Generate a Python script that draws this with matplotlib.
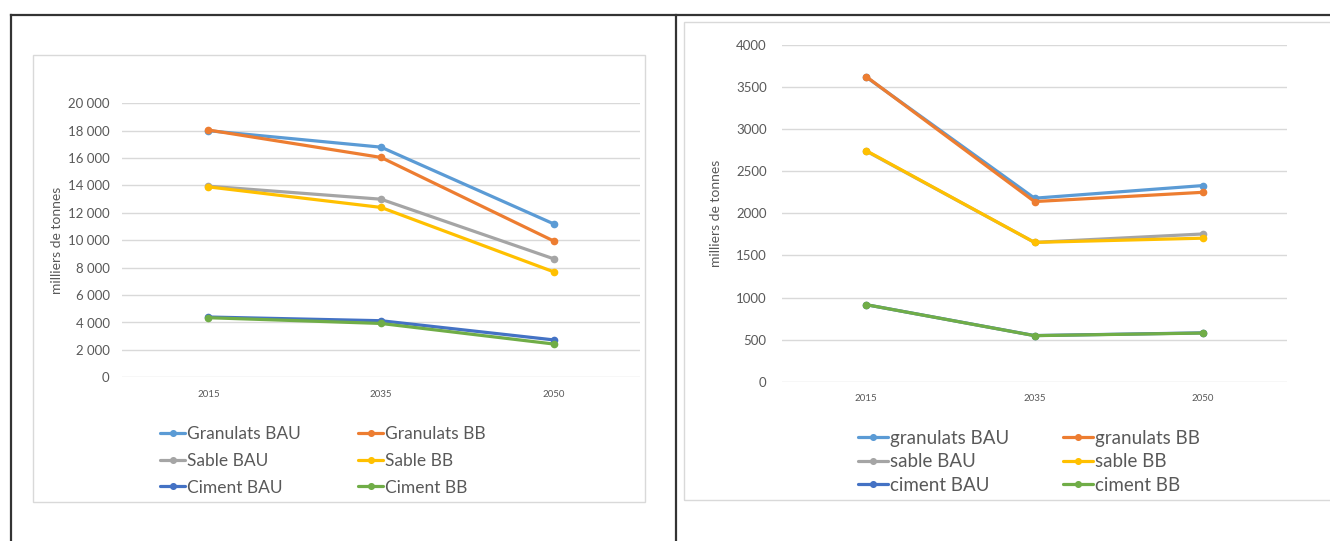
import matplotlib
matplotlib.use("Agg")
import matplotlib.pyplot as plt
from matplotlib.patches import Rectangle
from matplotlib.lines import Line2D
from matplotlib.ticker import FuncFormatter

# données
annees = ["2015", "2035", "2050"]

# graphique de gauche (France)
gauche_noms = ["Granulats BAU", "Granulats BB", "Sable BAU", "Sable BB", "Ciment BAU", "Ciment BB"]
granulats_bau_g = [18000, 16800, 11200]
granulats_bb_g = [18050, 16050, 9950]
sable_bau_g = [13950, 13000, 8650]
sable_bb_g = [13900, 12400, 7700]
ciment_bau_g = [4400, 4130, 2730]
ciment_bb_g = [4350, 3930, 2430]

# graphique de droite
droite_noms = ["granulats BAU", "granulats BB", "sable BAU", "sable BB", "ciment BAU", "ciment BB"]
granulats_bau_d = [3620, 2180, 2330]
granulats_bb_d = [3625, 2140, 2250]
sable_bau_d = [2740, 1655, 1755]
sable_bb_d = [2745, 1655, 1705]
ciment_bau_d = [915, 548, 580]
ciment_bb_d = [915, 547, 578]

couleurs = ["#5B9BD5", "#ED7D31", "#A5A5A5", "#FFC000", "#4472C4", "#70AD47"]

W, H = 1330, 541
GRIS_TXT = "#595959"
GRIS_GRILLE = "#D9D9D9"

plt.rcParams['font.family'] = ['Lato', 'DejaVu Sans']


def px_box(x0, y0, x1, y1):
    # pixels (origine en haut à gauche) -> coordonnées figure
    return [x0 / W, 1 - y1 / H, (x1 - x0) / W, (y1 - y0) / H]


def milliers(v, pos):
    return f"{v:,.0f}".replace(",", " ")


def tracer(ax, series, noms, ymax, pas, fmt, ylabel_x, pad_y):
    x = range(len(annees))
    for vals, nom, c in zip(series, noms, couleurs):
        ax.plot(x, vals, color=c, lw=2.3, marker='o', ms=4.5, label=nom,
                solid_capstyle='round')
    ax.set_xlim(-0.5, len(annees) - 0.5)
    ax.set_ylim(0, ymax)
    ax.set_yticks(range(0, ymax + 1, pas))
    ax.yaxis.set_major_formatter(FuncFormatter(fmt))
    ax.set_xticks(list(x))
    ax.set_xticklabels(annees, fontsize=7, color=GRIS_TXT)
    ax.tick_params(axis='y', labelsize=9.5, colors=GRIS_TXT, length=0, pad=pad_y)
    ax.tick_params(axis='x', length=0, pad=9)
    ax.grid(axis='y', color=GRIS_GRILLE, lw=1)
    ax.set_axisbelow(True)
    ax.patch.set_alpha(0)
    for s in ax.spines.values():
        s.set_visible(False)
    ax.set_ylabel("milliers de tonnes", fontsize=10, color=GRIS_TXT)
    ax.yaxis.set_label_coords(ylabel_x, 0.5)


def legende(ax, **kw):
    # ordre par lignes (comme Excel) : matplotlib remplit par colonnes
    h, l = ax.get_legend_handles_labels()
    ordre = [0, 2, 4, 1, 3, 5]
    ax.legend([h[i] for i in ordre], [l[i] for i in ordre], ncol=2, loc='upper left',
              bbox_transform=fig.transFigure, frameon=False, handletextpad=0.1,
              borderaxespad=0, borderpad=0, labelcolor=GRIS_TXT, markerscale=0.9, **kw)


fig = plt.figure(figsize=(W / 100, H / 100), dpi=100)

# cadres des graphiques
fig.patches.append(Rectangle((33 / W, 1 - 502 / H), (645 - 33) / W, (502 - 55) / H,
                             transform=fig.transFigure, fc='none', ec=GRIS_GRILLE, lw=1,
                             zorder=-1))
fig.patches.append(Rectangle((684 / W, 1 - 500 / H), (1340 - 684) / W, (500 - 22) / H,
                             transform=fig.transFigure, fc='none', ec=GRIS_GRILLE, lw=1,
                             zorder=-1))

# bordures du tableau
for xs, ys in [([11, 1330], [15, 15]), ([11, 11], [15, 541]), ([676, 676], [15, 541])]:
    fig.add_artist(Line2D([v / W for v in xs], [1 - v / H for v in ys],
                          transform=fig.transFigure, color='#333333', lw=1.6))

ax1 = fig.add_axes(px_box(122, 103.3, 640, 377.3))
tracer(ax1, [granulats_bau_g, granulats_bb_g, sable_bau_g, sable_bb_g, ciment_bau_g, ciment_bb_g],
       gauche_noms, 20000, 2000, milliers, -0.114, 9)
legende(ax1, bbox_to_anchor=(160 / W, 1 - 426 / H), fontsize=12.5,
        handlelength=1.45, columnspacing=3.3, labelspacing=0.62)

ax2 = fig.add_axes(px_box(782, 45, 1287, 381.7))
tracer(ax2, [granulats_bau_d, granulats_bb_d, sable_bau_d, sable_bb_d, ciment_bau_d, ciment_bb_d],
       droite_noms, 4000, 500, lambda v, p: f"{v:.0f}", -0.118, 11)
legende(ax2, bbox_to_anchor=(858 / W, 1 - 430 / H), fontsize=13.5,
        handlelength=1.6, columnspacing=2.9, labelspacing=0.34)

fig.savefig("out.png", dpi=100)
